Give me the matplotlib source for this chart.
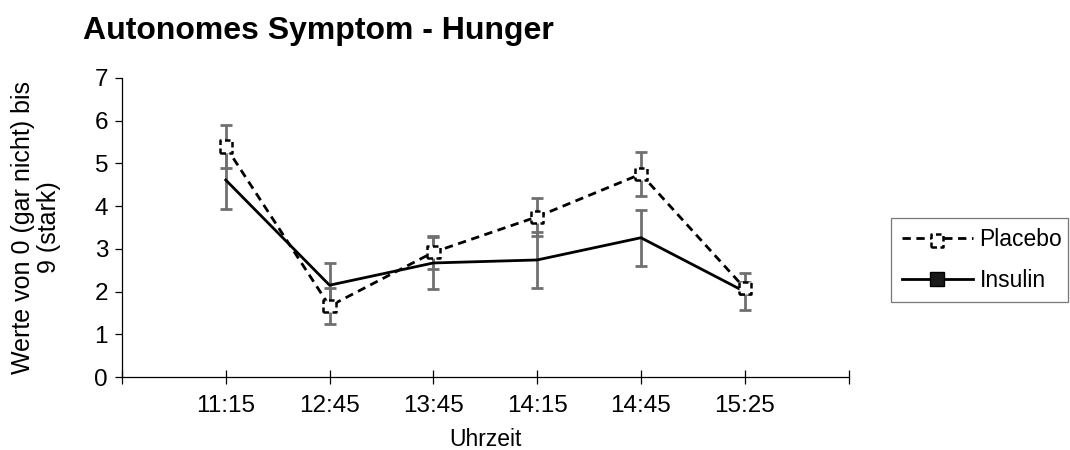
import matplotlib
matplotlib.use("Agg")
import matplotlib.pyplot as plt
from matplotlib.lines import Line2D
from matplotlib.legend_handler import HandlerTuple

plt.rcParams["font.family"] = ["Liberation Sans", "DejaVu Sans"]

times = ["11:15", "12:45", "13:45", "14:15", "14:45", "15:25"]
placebo = [5.39, 1.66, 2.92, 3.75, 4.75, 2.08]
placebo_err = [0.50, 0.42, 0.38, 0.45, 0.52, 0.14]
insulin = [4.61, 2.15, 2.67, 2.74, 3.26, 2.00]
insulin_err = [0.68, 0.52, 0.60, 0.66, 0.65, 0.44]

title = "Autonomes Symptom - Hunger"
ylabel = "Werte von 0 (gar nicht) bis\n9 (stark)"
xlabel = "Uhrzeit"

fs = 16.5
tick_fs = 17.5

fig = plt.figure(figsize=(10.7, 4.5), dpi=100)
ax = fig.add_axes([0.114, 0.162, 0.679, 0.665])

x = list(range(1, len(times) + 1))
err_color = "#707070"

ax.errorbar(x, placebo, yerr=placebo_err, fmt="none", ecolor=err_color,
            elinewidth=2.0, capsize=4.4, capthick=2.0, zorder=2)
ax.errorbar(x, insulin, yerr=insulin_err, fmt="none", ecolor=err_color,
            elinewidth=2.0, capsize=4.4, capthick=2.0, zorder=2)

ax.plot(x, insulin, color="black", lw=2.0, zorder=3)
ax.plot(x, placebo, color="black", lw=2.0, ls=(0, (3, 2)), zorder=3)
ax.scatter(x, placebo, s=80, marker="s", facecolor="white", edgecolor="black",
           linewidths=1.8, linestyles=(0, (2.2, 1.4)), zorder=4)

ax.set_xlim(0, 7)
ax.set_ylim(0, 7)
ax.set_xticks(range(0, 8))
ax.set_xticklabels([""] + times + [""])
ax.set_yticks(range(0, 8))

for side in ("top", "right"):
    ax.spines[side].set_visible(False)
for side in ("left", "bottom"):
    ax.spines[side].set_linewidth(0.9)

ax.tick_params(axis="x", direction="inout", length=10, width=0.9,
               labelsize=tick_fs, pad=8)
ax.tick_params(axis="y", direction="out", length=5, width=0.9,
               labelsize=tick_fs, pad=5)

ax.set_xlabel(xlabel, fontsize=fs, labelpad=8)
ax.set_ylabel(ylabel, fontsize=18, labelpad=24, linespacing=1.1)

fig.text(0.078, 0.93, title, fontsize=23, fontweight="bold", ha="left",
         va="center")

# legend handles
pl_line = Line2D([], [], color="black", lw=2.0, ls=(0, (3, 2)))
pl_mark = ax.scatter([], [], s=80, marker="s", facecolor="white",
                     edgecolor="black", linewidths=1.8,
                     linestyles=(0, (2.2, 1.4)))
in_line = Line2D([], [], color="black", lw=2.0, marker="s", ms=10,
                 mfc="#1a1a1a", mec="black")

leg = fig.legend([(pl_line, pl_mark), in_line], ["Placebo", "Insulin"],
                 handler_map={tuple: HandlerTuple(ndivide=1, pad=0)},
                 loc="lower left", bbox_to_anchor=(0.833, 0.329, 0.165, 0.189),
                 mode="expand", fontsize=fs, frameon=True, fancybox=False,
                 borderpad=0.45, handlelength=3.1, handletextpad=0.3,
                 labelspacing=0.75, borderaxespad=0)
leg.get_frame().set_edgecolor("#555555")
leg.get_frame().set_linewidth(0.9)

fig.savefig("out.png", dpi=100)
